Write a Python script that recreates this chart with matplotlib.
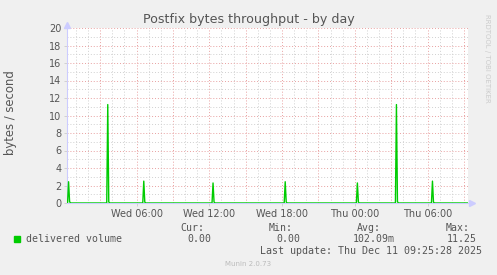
import matplotlib.pyplot as plt
from matplotlib.patches import Rectangle

# spikes (hours since Wed 00:00)
spike_hours = [0.40, 3.63, 6.60, 12.31, 18.26, 24.21, 27.43, 30.40]
spike_peaks = [2.43, 11.25, 2.50, 2.29, 2.43, 2.29, 11.25, 2.50]
spike_tails = [0.15, 0.12, 0.10, 0.10, 0.10, 0.10, 0.15, 0.10]

x_start, x_end = 0.27, 33.33
tick_hours = [6, 12, 18, 24, 30]
tick_labels = ["Wed 06:00", "Wed 12:00", "Wed 18:00", "Thu 00:00", "Thu 06:00"]

legend_name = "delivered volume"
stat_heads = ["Cur:", "Min:", "Avg:", "Max:"]
stat_vals = ["0.00", "0.00", "102.09m", "11.25"]

# build the 5 minute sample series
step = 5 / 60
t = [x_start]
v = [0.0]
for h, p, tail in zip(spike_hours, spike_peaks, spike_tails):
    t += [h - step, h, h + step, h + 2 * step]
    v += [0.0, p, tail, 0.0]
t.append(x_end)
v.append(0.0)

txt = '#555555'
fig = plt.figure(figsize=(4.97, 2.75), dpi=100, facecolor='#F0F0F0')
ax = fig.add_axes([67 / 497, 1 - 203 / 275, 401 / 497, 175 / 275])
ax.set_facecolor('white')

ax.set_xlim(x_start, x_end)
ax.set_ylim(0, 20)

# grid: minor gray every hour / unit, major red every 3h / 2 units
for h in range(1, 34):
    col = '#E8A0A0' if h % 3 == 0 else '#D0D0D0'
    ax.axvline(h, color=col, lw=0.7, ls=(0, (1, 2)), zorder=1)
for y in range(1, 21):
    col = '#E8A0A0' if y % 2 == 0 else '#D0D0D0'
    ax.axhline(y, color=col, lw=0.7, ls=(0, (1, 2)), zorder=1)

ax.plot(t, v, color='#00CC00', lw=1.0, zorder=3)

for s in ['top', 'right']:
    ax.spines[s].set_visible(False)
ax.spines['left'].set_color('#CCCCFF')
ax.spines['bottom'].set_color('#CCCCFF')
ax.spines['left'].set_linewidth(0.8)
ax.spines['bottom'].set_linewidth(0.8)
ax.plot(x_start, 20.3, marker='^', color='#CCCCFF', ms=4, clip_on=False, zorder=4)
ax.plot(x_end + 0.3, 0, marker='>', color='#CCCCFF', ms=4, clip_on=False, zorder=4)

ax.set_yticks(range(0, 21, 2))
ax.set_xticks(tick_hours)
ax.set_xticklabels(tick_labels)
ax.tick_params(axis='both', length=2, width=0.6, color='#CCCCCC', labelsize=7, labelcolor=txt, pad=2)

fig.text(0.5, 1 - 19 / 275, "Postfix bytes throughput - by day", ha='center', va='center',
         fontsize=9.1, color=txt)
fig.text(11 / 497, 1 - 113 / 275, "bytes / second", rotation=90, ha='center', va='center',
         fontsize=8.4, color=txt)
fig.text(487 / 497, 1 - 58 / 275, "RRDTOOL / TOBI OETIKER", rotation=-90, ha='center', va='center',
         fontsize=5, color='#CCCCCC')

# legend
fig.add_artist(Rectangle((14 / 497, 1 - 242 / 275), 6 / 497, 6 / 275, color='#00CC00',
                         transform=fig.transFigure))
mono = 'DejaVu Sans Mono'
fig.text(26 / 497, 1 - 239.5 / 275, legend_name, family=mono, fontsize=7.1, color=txt, va='center')
head_x = [204, 293, 381, 470]
val_x = [211, 300, 395, 477]
for hx, vx, head, val in zip(head_x, val_x, stat_heads, stat_vals):
    fig.text(hx / 497, 1 - 228.3 / 275, head, family=mono, fontsize=7.1, color=txt, ha='right', va='center')
    fig.text(vx / 497, 1 - 239.5 / 275, val, family=mono, fontsize=7.1, color=txt, ha='right', va='center')
fig.text(482 / 497, 1 - 251 / 275, "Last update: Thu Dec 11 09:25:28 2025", family=mono,
         fontsize=7.2, color=txt, ha='right', va='center')
fig.text(0.5, 1 - 264 / 275, "Munin 2.0.73", fontsize=5, color='#BBBBBB', ha='center', va='center')

fig.savefig('out.png', dpi=100, facecolor=fig.get_facecolor())
